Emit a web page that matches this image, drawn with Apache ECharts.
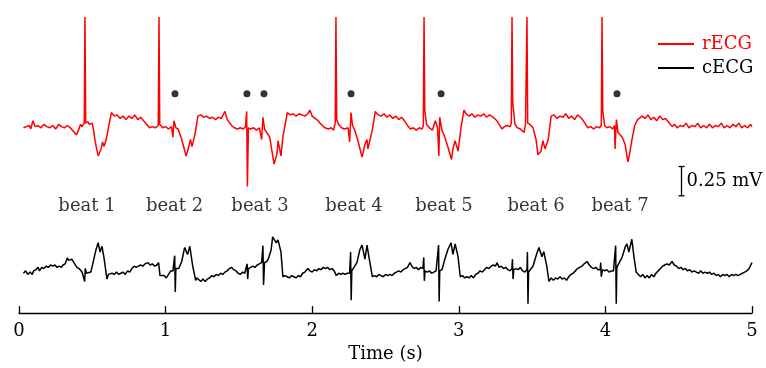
<!DOCTYPE html>
<html>
<head>
<meta charset="utf-8">
<script src="https://cdn.jsdelivr.net/npm/echarts@6/dist/echarts.min.js"></script>
<style>
html,body{margin:0;padding:0;background:#fff;}
#chart{width:766px;height:368px;}
</style>
</head>
<body>
<div id="chart"></div>
<script>
// ---- data (time in s, amplitude in mV relative to each trace's baseline) ----
const rECG = [
[0.03,-0.02],[0.05,-0.01],[0.07,0.00],[0.08,-0.03],[0.095,0.04],[0.11,-0.01],[0.13,0.00],[0.15,-0.02],[0.17,0.01],[0.19,-0.01],
[0.21,-0.02],[0.23,0.00],[0.25,-0.03],[0.27,0.01],[0.29,-0.01],[0.31,-0.02],[0.33,0.00],[0.35,-0.02],[0.37,-0.05],[0.39,-0.08],
[0.40,-0.06],[0.42,0.01],[0.43,-0.01],[0.445,0.02],[0.45,0.925],[0.455,0.02],[0.47,0.03],[0.48,0.01],[0.50,0.02],[0.51,-0.05],
[0.52,-0.14],[0.54,-0.26],[0.56,-0.20],[0.57,-0.14],[0.58,-0.18],[0.595,-0.12],[0.61,-0.02],[0.63,0.11],[0.65,0.08],[0.67,0.09],
[0.69,0.06],[0.71,0.08],[0.73,0.05],[0.75,0.08],[0.77,0.06],[0.79,0.09],[0.81,0.05],[0.83,0.07],[0.85,0.04],[0.87,0.01],
[0.89,-0.02],[0.91,-0.01],[0.93,-0.02],[0.95,0.00],[0.955,0.925],[0.96,0.01],[0.98,-0.02],[1.00,-0.01],[1.02,-0.03],[1.04,-0.01],
[1.05,-0.10],[1.057,0.04],[1.07,-0.02],[1.085,-0.03],[1.11,-0.12],[1.14,-0.26],[1.15,-0.22],[1.17,-0.12],[1.18,-0.18],[1.20,-0.08],
[1.22,0.08],[1.24,0.09],[1.26,0.07],[1.28,0.08],[1.30,0.06],[1.32,0.07],[1.34,0.05],[1.36,0.07],[1.38,0.06],[1.405,0.12],
[1.42,0.05],[1.45,0.00],[1.47,-0.02],[1.49,-0.03],[1.51,-0.02],[1.53,-0.03],[1.545,-0.01],[1.553,0.12],[1.558,-0.52],[1.565,-0.02],
[1.58,-0.03],[1.60,-0.02],[1.62,-0.04],[1.64,-0.02],[1.655,-0.12],[1.664,0.07],[1.675,-0.03],[1.69,-0.06],[1.71,-0.10],[1.74,-0.33],
[1.76,-0.24],[1.767,-0.13],[1.787,-0.26],[1.80,-0.10],[1.83,0.11],[1.85,0.09],[1.87,0.10],[1.89,0.08],[1.91,0.10],[1.93,0.09],
[1.95,0.08],[1.97,0.10],[1.985,0.13],[2.00,0.08],[2.02,0.06],[2.04,0.04],[2.06,0.01],[2.087,-0.02],[2.11,-0.03],[2.13,-0.02],
[2.145,-0.04],[2.157,0.02],[2.162,0.925],[2.167,0.05],[2.18,0.01],[2.20,-0.02],[2.22,-0.03],[2.245,-0.02],[2.255,-0.14],[2.265,0.11],
[2.275,0.00],[2.29,-0.04],[2.31,-0.12],[2.34,-0.27],[2.36,-0.16],[2.374,-0.12],[2.38,-0.20],[2.41,-0.04],[2.43,0.12],[2.45,0.09],
[2.47,0.08],[2.49,0.10],[2.51,0.07],[2.53,0.09],[2.55,0.06],[2.57,0.08],[2.59,0.05],[2.61,0.07],[2.63,0.04],[2.65,0.00],
[2.67,-0.03],[2.69,-0.02],[2.71,-0.04],[2.73,-0.02],[2.75,-0.03],[2.758,0.00],[2.763,0.925],[2.768,0.13],[2.78,0.01],[2.80,-0.02],
[2.82,-0.04],[2.84,0.04],[2.855,-0.02],[2.864,-0.26],[2.87,0.07],[2.885,-0.04],[2.905,-0.10],[2.93,-0.20],[2.95,-0.29],[2.96,-0.20],
[2.975,-0.13],[2.995,-0.22],[3.015,-0.02],[3.035,0.13],[3.05,0.10],[3.07,0.08],[3.09,0.10],[3.11,0.07],[3.13,0.09],[3.15,0.08],
[3.17,0.10],[3.19,0.07],[3.21,0.09],[3.235,0.07],[3.26,0.04],[3.28,0.00],[3.295,-0.03],[3.31,-0.01],[3.33,0.00],[3.35,-0.01],
[3.358,0.02],[3.363,0.925],[3.368,0.19],[3.383,0.01],[3.40,-0.02],[3.42,-0.03],[3.445,-0.06],[3.455,0.01],[3.465,0.925],[3.47,0.02],
[3.485,0.01],[3.506,-0.02],[3.527,-0.12],[3.54,-0.25],[3.56,-0.22],[3.574,-0.13],[3.588,-0.20],[3.61,-0.12],[3.63,0.08],[3.65,0.09],
[3.67,0.06],[3.69,0.08],[3.71,0.07],[3.73,0.10],[3.75,0.06],[3.77,0.08],[3.79,0.05],[3.81,0.09],[3.83,0.07],[3.85,0.04],
[3.88,-0.02],[3.90,-0.01],[3.92,-0.03],[3.94,-0.01],[3.96,-0.02],[3.972,0.00],[3.977,0.925],[3.982,0.12],[3.995,0.00],[4.01,-0.02],
[4.03,-0.01],[4.05,-0.03],[4.062,0.00],[4.066,-0.20],[4.075,0.05],[4.086,-0.06],[4.115,-0.10],[4.134,-0.16],[4.154,-0.31],[4.168,-0.22],
[4.18,-0.13],[4.20,0.00],[4.22,0.05],[4.25,0.08],[4.27,0.06],[4.29,0.09],[4.31,0.05],[4.33,0.07],[4.35,0.04],[4.37,0.08],
[4.39,0.05],[4.41,0.06],[4.43,0.03],[4.455,-0.01],[4.47,0.01],[4.49,-0.02],[4.51,0.00],[4.53,-0.01],[4.55,0.02],[4.57,-0.02],
[4.59,0.00],[4.61,-0.01],[4.63,0.02],[4.65,-0.02],[4.67,0.00],[4.69,-0.02],[4.71,0.01],[4.73,-0.02],[4.75,0.00],[4.77,-0.01],
[4.79,0.02],[4.81,-0.02],[4.83,0.00],[4.85,-0.02],[4.87,0.01],[4.89,-0.01],[4.91,0.02],[4.93,-0.02],[4.95,0.00],[4.97,-0.02],
[4.99,0.01],[5.00,-0.01]
];

const cECG = [
[0.03,-0.01],[0.045,0.01],[0.06,-0.02],[0.075,0.00],[0.09,-0.02],[0.10,0.01],[0.115,0.02],[0.13,0.04],[0.14,0.01],[0.155,0.04],
[0.17,0.03],[0.185,0.05],[0.20,0.04],[0.215,0.06],[0.23,0.05],[0.245,0.06],[0.26,0.04],[0.275,0.05],[0.29,0.04],[0.30,0.06],
[0.315,0.07],[0.33,0.12],[0.34,0.10],[0.35,0.09],[0.36,0.11],[0.37,0.11],[0.38,0.07],[0.395,0.04],[0.41,0.03],[0.43,0.00],
[0.443,-0.01],[0.448,-0.08],[0.452,0.03],[0.46,-0.01],[0.47,-0.02],[0.49,0.00],[0.505,0.08],[0.525,0.19],[0.54,0.25],[0.553,0.17],
[0.566,0.22],[0.58,0.12],[0.60,-0.06],[0.61,-0.02],[0.62,-0.03],[0.635,-0.01],[0.65,-0.02],[0.665,0.00],[0.68,-0.02],[0.695,-0.01],
[0.71,0.00],[0.725,-0.02],[0.74,0.01],[0.755,0.00],[0.77,0.03],[0.785,0.05],[0.80,0.04],[0.815,0.05],[0.83,0.06],[0.845,0.05],
[0.86,0.07],[0.88,0.08],[0.895,0.06],[0.91,0.07],[0.925,0.05],[0.94,0.06],[0.952,0.08],[0.962,-0.03],[0.975,-0.04],[0.99,-0.03],
[1.005,-0.05],[1.02,-0.02],[1.035,0.01],[1.05,0.01],[1.058,0.00],[1.062,0.14],[1.066,-0.17],[1.07,0.03],[1.08,0.03],[1.09,0.03],
[1.11,0.09],[1.13,0.21],[1.15,0.15],[1.165,0.22],[1.185,0.05],[1.205,-0.07],[1.215,-0.05],[1.225,-0.06],[1.24,-0.08],[1.255,-0.06],
[1.27,-0.08],[1.285,-0.06],[1.30,-0.05],[1.315,-0.03],[1.33,-0.04],[1.345,-0.02],[1.36,-0.03],[1.375,-0.01],[1.39,-0.02],[1.405,0.00],
[1.42,0.01],[1.435,0.03],[1.45,0.04],[1.465,0.02],[1.48,0.01],[1.495,-0.01],[1.51,-0.02],[1.525,0.00],[1.54,-0.01],[1.552,0.00],
[1.556,0.07],[1.56,-0.06],[1.565,0.03],[1.58,0.04],[1.595,0.05],[1.61,0.04],[1.625,0.06],[1.64,0.07],[1.655,0.08],[1.66,0.08],
[1.664,0.225],[1.668,-0.11],[1.675,0.08],[1.69,0.09],[1.70,0.11],[1.72,0.19],[1.73,0.30],[1.745,0.27],[1.755,0.25],[1.767,0.275],
[1.787,0.17],[1.80,-0.04],[1.815,-0.03],[1.83,-0.04],[1.845,-0.05],[1.86,-0.03],[1.875,-0.04],[1.89,-0.05],[1.905,-0.03],[1.92,-0.04],
[1.935,-0.01],[1.95,0.00],[1.97,0.03],[1.985,0.01],[2.00,0.00],[2.015,0.02],[2.03,0.01],[2.045,0.03],[2.06,0.02],[2.075,0.04],
[2.09,0.03],[2.105,0.04],[2.12,0.02],[2.135,0.03],[2.15,0.01],[2.165,-0.03],[2.18,-0.01],[2.195,-0.02],[2.21,-0.01],[2.225,-0.02],
[2.24,-0.01],[2.255,-0.01],[2.26,0.00],[2.262,0.17],[2.266,-0.24],[2.27,0.01],[2.28,0.01],[2.305,0.08],[2.325,0.19],[2.34,0.23],
[2.36,0.11],[2.374,0.23],[2.387,0.13],[2.41,-0.04],[2.425,-0.03],[2.44,-0.04],[2.455,-0.02],[2.47,-0.03],[2.485,-0.04],[2.50,-0.02],
[2.515,-0.03],[2.53,-0.02],[2.545,-0.03],[2.56,-0.01],[2.575,0.00],[2.59,0.01],[2.605,0.00],[2.62,0.02],[2.635,0.03],[2.65,0.04],
[2.667,0.08],[2.68,0.05],[2.695,0.03],[2.71,0.04],[2.725,0.02],[2.74,0.04],[2.755,0.03],[2.759,0.03],[2.761,0.125],[2.765,-0.075],
[2.77,0.01],[2.785,0.00],[2.80,0.01],[2.815,-0.01],[2.83,0.00],[2.845,0.01],[2.858,0.00],[2.862,0.23],[2.866,-0.25],[2.87,0.01],
[2.885,0.02],[2.905,0.11],[2.925,0.19],[2.947,0.25],[2.96,0.15],[2.975,0.24],[2.995,0.13],[3.01,-0.04],[3.025,-0.03],[3.04,-0.05],
[3.055,-0.04],[3.07,-0.05],[3.085,-0.03],[3.10,-0.05],[3.115,-0.02],[3.13,-0.01],[3.145,0.01],[3.16,0.00],[3.175,0.02],[3.19,0.04],
[3.205,0.03],[3.22,0.05],[3.235,0.06],[3.25,0.05],[3.26,0.08],[3.275,0.04],[3.29,0.05],[3.305,0.03],[3.32,0.04],[3.335,0.02],
[3.35,0.01],[3.362,0.03],[3.366,0.11],[3.37,-0.06],[3.375,0.02],[3.39,0.03],[3.405,0.02],[3.42,0.04],[3.435,0.01],[3.45,0.00],
[3.465,0.02],[3.468,0.17],[3.472,-0.27],[3.476,0.00],[3.485,0.00],[3.506,0.05],[3.53,0.15],[3.547,0.21],[3.567,0.13],[3.58,0.175],
[3.60,0.05],[3.615,-0.08],[3.63,-0.05],[3.645,-0.07],[3.66,-0.05],[3.675,-0.06],[3.69,-0.04],[3.705,-0.06],[3.72,-0.05],[3.735,-0.07],
[3.75,-0.04],[3.765,-0.02],[3.78,-0.01],[3.795,0.01],[3.81,0.03],[3.825,0.04],[3.84,0.05],[3.855,0.07],[3.875,0.09],[3.89,0.06],
[3.905,0.04],[3.92,0.03],[3.935,0.04],[3.95,0.02],[3.964,0.02],[3.968,0.08],[3.972,-0.04],[3.98,0.02],[3.995,0.01],[4.01,0.02],
[4.025,0.00],[4.04,0.01],[4.055,0.01],[4.066,0.02],[4.07,0.225],[4.074,-0.27],[4.078,0.04],[4.086,0.05],[4.115,0.13],[4.134,0.21],
[4.147,0.24],[4.16,0.17],[4.18,0.28],[4.195,0.13],[4.21,0.00],[4.225,-0.02],[4.24,-0.04],[4.255,-0.02],[4.27,-0.05],[4.285,-0.03],
[4.30,-0.05],[4.315,-0.02],[4.33,-0.04],[4.345,-0.01],[4.36,0.01],[4.375,0.03],[4.39,0.05],[4.405,0.06],[4.42,0.07],[4.435,0.06],
[4.455,0.09],[4.47,0.06],[4.485,0.05],[4.50,0.03],[4.515,0.04],[4.53,0.02],[4.545,0.03],[4.56,0.01],[4.575,0.02],[4.59,0.00],
[4.605,0.01],[4.62,0.00],[4.635,-0.01],[4.65,0.01],[4.665,-0.01],[4.68,0.00],[4.695,-0.01],[4.71,0.00],[4.725,-0.02],[4.74,-0.01],
[4.755,-0.03],[4.77,-0.02],[4.785,-0.04],[4.80,-0.02],[4.815,-0.03],[4.83,-0.02],[4.845,-0.04],[4.86,-0.02],[4.875,-0.03],[4.89,-0.02],
[4.905,-0.03],[4.92,-0.02],[4.935,-0.01],[4.95,0.00],[4.965,0.01],[4.98,0.03],[5.00,0.08]
];

// detected-beat markers (times in s) and their height above rECG baseline (mV)
const dotTimes = [1.064, 1.555, 1.671, 2.265, 2.879, 4.079];
const dotLevel = 0.27;

// beat labels
const beatNames = ['beat 1','beat 2','beat 3','beat 4','beat 5','beat 6','beat 7'];
const beatTimes = [0.464, 1.061, 1.644, 2.285, 2.899, 3.527, 4.100];

// axis ticks
const xTicks = [0, 1, 2, 3, 4, 5];

// scale bar
const scaleBarMV = 0.25;
const scaleBarLabel = '0.25 mV';

// ---- layout (vertical placement of traces on the hidden mV axis) ----
const R_BASE = 1.6, C_BASE = 0.35, LABEL_Y = 0.91;
const SCALE_T = 4.515, SCALE_Y0 = 1.0;
const FONT = '"DejaVu Serif", serif';

const chart = echarts.init(document.getElementById('chart'), null, {renderer: 'canvas'});
chart.setOption({
  animation: false,
  backgroundColor: '#fff',
  grid: {left: 19, right: 14, top: 17, bottom: 48, containLabel: false},
  legend: {
    orient: 'vertical', left: 658, top: 34, icon: 'rect', itemWidth: 36, itemHeight: 2, itemGap: 4,
    padding: 0,
    textStyle: {fontFamily: FONT, fontSize: 18, lineHeight: 20, padding: [0, 0, 0, 3]},
    data: [{name: 'rECG', textStyle: {color: '#ff0000'}}, {name: 'cECG', textStyle: {color: '#000000'}}]
  },
  xAxis: {
    type: 'value', min: xTicks[0], max: xTicks[xTicks.length - 1], interval: 1,
    name: 'Time (s)', nameLocation: 'middle', nameGap: 24,
    nameTextStyle: {fontFamily: FONT, fontSize: 18, color: '#000'},
    axisLine: {show: true, onZero: false, lineStyle: {color: '#000', width: 1.3}},
    axisTick: {show: true, inside: true, length: 7, lineStyle: {color: '#000', width: 1.3}},
    axisLabel: {fontFamily: FONT, fontSize: 18, color: '#000', margin: 9},
    splitLine: {show: false}
  },
  yAxis: {type: 'value', min: 0, max: 2.525, show: false, splitLine: {show: false}},
  series: [
    {
      name: 'rECG', type: 'line', showSymbol: false, symbol: 'none',
      data: rECG.map(d => [d[0], d[1] + R_BASE]),
      lineStyle: {color: '#ff0000', width: 1.5}, itemStyle: {color: '#ff0000'}, z: 3
    },
    {
      name: 'cECG', type: 'line', showSymbol: false, symbol: 'none',
      data: cECG.map(d => [d[0], d[1] + C_BASE]),
      lineStyle: {color: '#000000', width: 1.5}, itemStyle: {color: '#000000'}, z: 3
    },
    {
      name: 'dots', type: 'scatter', symbol: 'circle', symbolSize: 7,
      itemStyle: {color: '#000'},
      data: dotTimes.map(t => [t, dotLevel + R_BASE]), z: 4
    },
    {
      name: 'beats', type: 'scatter', symbolSize: 0,
      data: beatTimes.map((t, i) => ({name: beatNames[i], value: [t, LABEL_Y]})),
      label: {show: true, position: 'inside', formatter: p => p.name,
        fontFamily: FONT, fontSize: 18, color: '#000'}
    },
    {
      name: 'scale', type: 'custom',
      data: [[SCALE_T, SCALE_Y0]],
      renderItem: function (params, api) {
        const p0 = api.coord([api.value(0), api.value(1)]);
        const p1 = api.coord([api.value(0), api.value(1) + scaleBarMV]);
        const x = Math.round(p0[0]) + 0.5;
        return {
          type: 'group',
          children: [
            {type: 'line', shape: {x1: x, y1: p0[1], x2: x, y2: p1[1]}, style: {stroke: '#000', lineWidth: 1.3}},
            {type: 'line', shape: {x1: x - 3, y1: p0[1], x2: x + 3, y2: p0[1]}, style: {stroke: '#000', lineWidth: 1.3}},
            {type: 'line', shape: {x1: x - 3, y1: p1[1], x2: x + 3, y2: p1[1]}, style: {stroke: '#000', lineWidth: 1.3}},
            {type: 'text', style: {text: scaleBarLabel, x: x + 5, y: (p0[1] + p1[1]) / 2,
              verticalAlign: 'middle', align: 'left', font: '18px ' + FONT, fill: '#000'}}
          ]
        };
      }
    }
  ]
});
</script>
</body>
</html>
